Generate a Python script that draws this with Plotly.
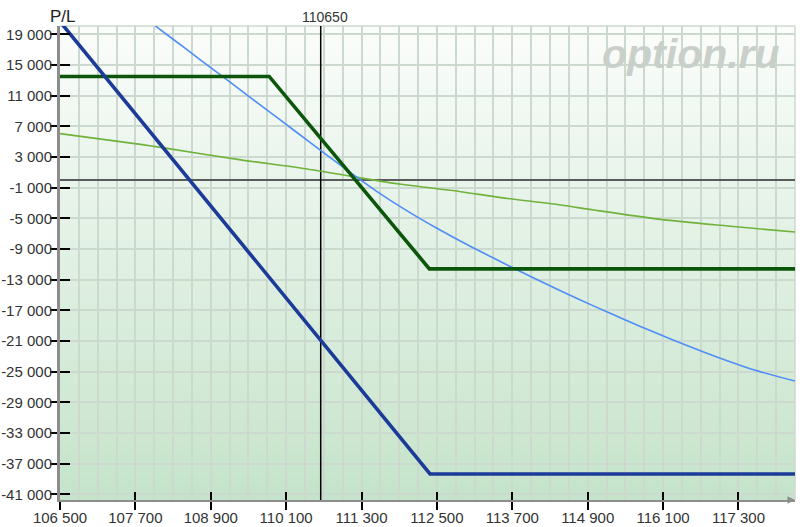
import plotly.graph_objects as go

# ---------------- data ----------------
spot_price = 110650

price_blue = [106500, 112390, 118200]
pl_blue = [20650, -38350, -38350]

price_dgreen = [106500, 109830, 112380, 118200]
pl_dgreen = [13500, 13500, -11600, -11600]

price_lblue = [107700, 108000, 108500, 109000, 109500, 110000, 110500, 111000, 111500,
               112000, 112500, 113000, 113500, 114000, 114500, 115000, 115500, 116000,
               116500, 117000, 117500, 118200]
pl_lblue = [22050, 20200, 17115, 14030, 10945, 7860, 4775, 1700, -1256,
            -3906, -6306, -8528, -10600, -12640, -14580, -16460, -18270, -20010,
            -21670, -23240, -24670, -26240]

price_lgreen = [106500, 107780, 108130, 109380, 110330, 111180, 111930, 112880, 113520,
                114470, 115000, 116060, 117130, 118200]
pl_lgreen = [6040, 4640, 4210, 2620, 1550, 400, -570, -1530, -2310,
             -3270, -3930, -5140, -6010, -6800]

x_tick_vals = [106500, 107700, 108900, 110100, 111300, 112500, 113700, 114900, 116100, 117300]
y_tick_vals = [19000, 15000, 11000, 7000, 3000, -1000, -5000, -9000, -13000, -17000,
               -21000, -25000, -29000, -33000, -37000, -41000]


def fmt(v):
    return f"{v:,}".replace(",", " ")


x_tick_text = [fmt(v) for v in x_tick_vals]
y_tick_text = [fmt(v) for v in y_tick_vals]

X_RANGE = [106500, 118200]
Y_RANGE = [-41750, 20080]

FONT = "Liberation Sans, Arial, sans-serif"
GRID = "#ccd9cf"

fig = go.Figure()

# spot line (vertical marker at the current price)
fig.add_trace(go.Scatter(x=[spot_price, spot_price], y=Y_RANGE, mode="lines",
                         line=dict(color="#000000", width=1.5), hoverinfo="skip"))
fig.add_trace(go.Scatter(x=price_lgreen, y=pl_lgreen, mode="lines",
                         line=dict(color="#6fb23c", width=1.6, shape="spline", smoothing=0.8),
                         hoverinfo="skip"))
fig.add_trace(go.Scatter(x=price_lblue, y=pl_lblue, mode="lines",
                         line=dict(color="#4f8ef7", width=1.6, shape="spline", smoothing=0.8),
                         hoverinfo="skip"))
fig.add_trace(go.Scatter(x=price_dgreen, y=pl_dgreen, mode="lines",
                         line=dict(color="#0b560b", width=3.6), hoverinfo="skip"))
fig.add_trace(go.Scatter(x=price_blue, y=pl_blue, mode="lines",
                         line=dict(color="#1c3b98", width=3.6), hoverinfo="skip"))
# dummy trace for overlay axes (inner tick halves)
fig.add_trace(go.Scatter(x=[], y=[], xaxis="x2", yaxis="y2", showlegend=False))

# gradient background bands
N = 60
top = (251, 253, 251)
bot = (197, 227, 202)
shapes = []
for i in range(N):
    t = (i + 0.5) / N
    c = tuple(round(top[k] + (bot[k] - top[k]) * t) for k in range(3))
    shapes.append(dict(type="rect", xref="paper", yref="paper",
                       x0=0, x1=1, y0=1 - (i + 1) / N - 0.002, y1=1 - i / N,
                       fillcolor=f"rgb{c}", line=dict(width=0), layer="below"))
# top and right border
shapes.append(dict(type="line", xref="paper", yref="paper", x0=0, x1=1, y0=1, y1=1,
                   line=dict(color=GRID, width=1.5), layer="below"))
shapes.append(dict(type="line", xref="paper", yref="paper", x0=1, x1=1, y0=0, y1=1,
                   line=dict(color=GRID, width=1.5), layer="below"))

fig.update_layout(
    width=800, height=527,
    margin=dict(l=60, r=5, t=26, b=27, autoexpand=False),
    paper_bgcolor="white", plot_bgcolor="white",
    showlegend=False,
    font=dict(family=FONT, color="#333333", size=15),
    shapes=shapes,
    xaxis=dict(range=X_RANGE, tickmode="array", tickvals=x_tick_vals, ticktext=x_tick_text,
               ticks="outside", ticklen=8, tickwidth=1.5, tickcolor="#000000",
               ticklabelstandoff=-5, automargin=False,
               showgrid=True, gridcolor=GRID, gridwidth=1.5,
               minor=dict(tick0=106500, dtick=300, showgrid=True, gridcolor=GRID, gridwidth=1.5),
               showline=True, linecolor="#8d8d8d", linewidth=2,
               zeroline=False, tickfont=dict(size=15, color="#333333")),
    yaxis=dict(range=Y_RANGE, tickmode="array", tickvals=y_tick_vals, ticktext=y_tick_text,
               ticks="outside", ticklen=7, tickwidth=1.5, tickcolor="#000000",
               ticklabelstandoff=-5, automargin=False,
               showgrid=True, gridcolor=GRID, gridwidth=1.5,
               showline=True, linecolor="#8d8d8d", linewidth=3,
               zeroline=True, zerolinecolor="#5a5a5a", zerolinewidth=1.5,
               tickfont=dict(size=15, color="#333333")),
    xaxis2=dict(range=X_RANGE, overlaying="x", anchor="y2", tickmode="array",
                tickvals=x_tick_vals, ticks="inside", ticklen=8, tickwidth=1.5,
                tickcolor="#000000", showticklabels=False, showgrid=False,
                zeroline=False, showline=False, automargin=False),
    yaxis2=dict(range=Y_RANGE, overlaying="y", anchor="x2", side="left", tickmode="array",
                tickvals=y_tick_vals, ticks="inside", ticklen=10, tickwidth=1.5,
                tickcolor="#000000", showticklabels=False, showgrid=False,
                zeroline=False, showline=False, automargin=False),
    annotations=[
        dict(text="P/L", xref="paper", yref="paper", x=0.004, y=1, xanchor="center",
             yanchor="bottom", showarrow=False, yshift=-2,
             font=dict(size=17, color="#222222", family=FONT)),
        dict(text=str(spot_price), xref="x", yref="paper", x=spot_price, y=1,
             xanchor="center", yanchor="bottom", showarrow=False, xshift=4, yshift=-1,
             font=dict(size=14, color="#333333", family=FONT)),
        dict(text="option.ru", xref="paper", yref="paper", x=0.858, y=0.94,
             xanchor="center", yanchor="middle", showarrow=False,
             font=dict(size=41, color="#c9d0ca", family=FONT, weight="bold", style="italic")),
        dict(text="", xref="paper", yref="paper", x=1.0, y=0, ax=-9, ay=0,
             showarrow=True, arrowhead=2, arrowsize=1, arrowwidth=1.5, arrowcolor="#8d8d8d"),
    ],
)

fig.write_html("out.html", config={"displayModeBar": False},
               post_script="document.body.style.margin='0';document.body.style.padding='0';")
